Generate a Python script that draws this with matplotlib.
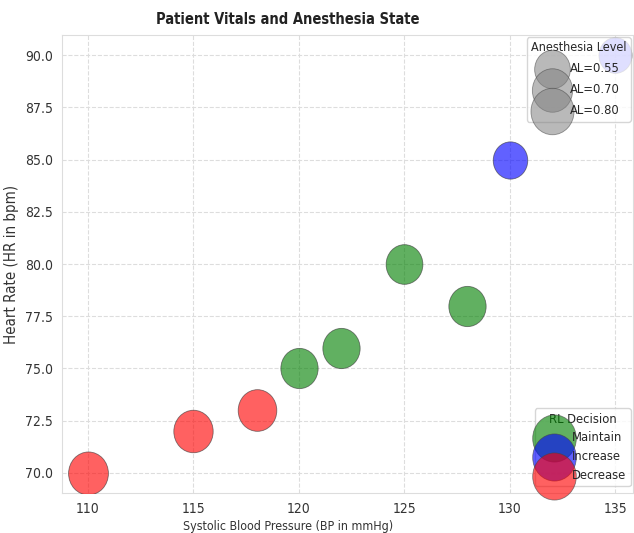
import numpy as np
import matplotlib
matplotlib.use("Agg")
import matplotlib.pyplot as plt
from matplotlib.path import Path
import seaborn as sns

# Data
bp = [110, 115, 118, 120, 122, 125, 128, 130, 135]
hr = [70, 72, 73, 75, 76, 80, 78, 85, 90]
al = [0.80, 0.78, 0.75, 0.70, 0.70, 0.68, 0.70, 0.60, 0.55]
decision = ["Decrease", "Decrease", "Decrease", "Maintain", "Maintain",
            "Maintain", "Maintain", "Increase", "Increase"]
decision_order = ["Maintain", "Increase", "Decrease"]
decision_colors = {"Maintain": "green", "Increase": "blue", "Decrease": "red"}
legend_al = [0.55, 0.70, 0.80]

sns.set_style("whitegrid")
plt.rcParams['font.family'] = ['DejaVu Sans']
plt.rcParams['font.stretch'] = 'condensed'

# slightly tall ellipse marker (reference is stretched vertically)
circ = Path.unit_circle()
ell = Path(circ.vertices * np.array([1.0 / 1.08, 1.0]), circ.codes)

fig = plt.figure(figsize=(6.34, 5.33), dpi=100)
ax_left, ax_w = 62 / 634, 571 / 634
ax = fig.add_axes([ax_left, 40 / 533, ax_w, 458 / 533])

scale = 1200
for x, y, a, d in zip(bp, hr, al, decision):
    ax.scatter(x, y, s=a * scale, c=decision_colors[d], alpha=0.62,
               edgecolors='#333333', linewidths=0.6, marker=ell, zorder=3)

ax.set_xlim(108.77, 135.85)
ax.set_ylim(69.04, 90.96)
ax.set_xticks([110, 115, 120, 125, 130, 135])
ax.set_yticks([70.0, 72.5, 75.0, 77.5, 80.0, 82.5, 85.0, 87.5, 90.0])
ax.yaxis.set_major_formatter(matplotlib.ticker.FormatStrFormatter('%.1f'))
ax.tick_params(labelsize=10, colors='#333333', pad=3)
ax.grid(True, linestyle='--', color='#dddddd', linewidth=0.8)
for sp in ax.spines.values():
    sp.set_color('#dddddd')

center_frac = (288 / 634 - ax_left) / ax_w
ax.set_xlabel("Systolic Blood Pressure (BP in mmHg)", fontsize=8.9, color='#333333')
ax.xaxis.set_label_coords(center_frac, -0.058)
ax.set_ylabel("Heart Rate (HR in bpm)", fontsize=10.8, color='#333333', labelpad=4)
ax.set_title("Patient Vitals and Anesthesia State", fontsize=10.5, fontweight='bold',
             color='#222222', pad=8, x=center_frac)

# Legends
size_handles = [ax.scatter([], [], s=a * 1400, c='gray', alpha=0.55,
                           edgecolors='#444444', linewidths=0.6, marker=ell)
                for a in legend_al]
leg1 = ax.legend(size_handles, [f"AL={a:.2f}" for a in legend_al],
                 title="Anesthesia Level", loc='upper right', fontsize=9.3,
                 title_fontsize=9.0, labelspacing=0.62, handletextpad=0.35,
                 handlelength=2.2, borderpad=0.35, framealpha=0.8,
                 borderaxespad=0.15)
ax.add_artist(leg1)

dec_handles = [ax.scatter([], [], s=1150, c=decision_colors[d], alpha=0.62,
                          edgecolors='#444444', linewidths=0.6, marker=ell)
               for d in decision_order]
leg2 = ax.legend(dec_handles, decision_order, title="RL Decision",
                 loc='lower right', bbox_to_anchor=(1.0, 0.01),
                 fontsize=9.3, title_fontsize=9.3,
                 labelspacing=0.45, handletextpad=0.35, handlelength=2.2,
                 borderpad=0.35, framealpha=0.8, borderaxespad=0.15)

fig.savefig("out.png", dpi=100)
